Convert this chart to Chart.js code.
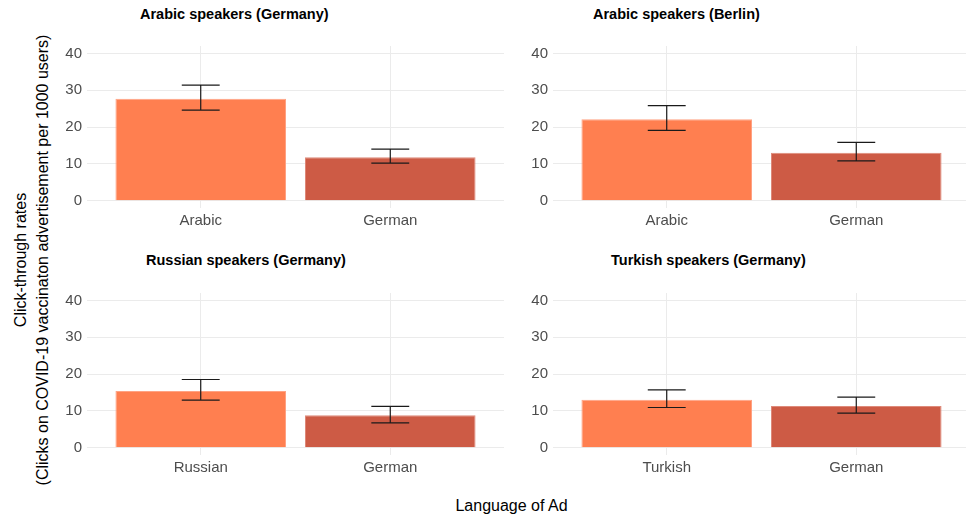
<!DOCTYPE html>
<html>
<head>
<meta charset="utf-8">
<script src="https://cdn.jsdelivr.net/npm/chart.js@4.4.0/dist/chart.umd.min.js"></script>
<style>
    html, body { margin: 0; padding: 0; width: 966px; height: 517px; overflow: hidden; background: #fff; }
    body { position: relative; font-family: "Liberation Sans", Arial, sans-serif; }
    canvas { position: absolute; }
    .panel-title { position: absolute; font-weight: bold; font-size: 14.5px; line-height: 1; color: #000; white-space: nowrap; }
    #yTitle { position: absolute; left: -218px; top: 238px; width: 500px; height: 44px; font-size: 16px; line-height: 22px;
              text-align: center; color: #000; transform: rotate(-90deg); transform-origin: 50% 50%; white-space: nowrap; }
    #xTitle { position: absolute; left: 0; width: 1023px; top: 498px; font-size: 16px; line-height: 1; text-align: center; color: #000; }
</style>
</head>
<body>
<div id="yTitle">Click-through rates<br>(Clicks on COVID-19 vaccinaton advertisement per 1000 users)</div>
<div id="xTitle">Language of Ad</div>
<script>
const panelTitles = ['Arabic speakers (Germany)', 'Arabic speakers (Berlin)', 'Russian speakers (Germany)', 'Turkish speakers (Germany)'];
const adLanguages = [['Arabic', 'German'], ['Arabic', 'German'], ['Russian', 'German'], ['Turkish', 'German']];
const ctrValues = [[27.7, 11.8], [22.1, 13.0], [15.4, 8.8], [13.0, 11.3]];
const ciLower = [[24.6, 10.2], [19.1, 10.8], [12.9, 6.7], [10.9, 9.4]];
const ciUpper = [[31.4, 14.0], [25.8, 15.8], [18.5, 11.2], [15.7, 13.7]];
const yTicks = [0, 10, 20, 30, 40];
const yMinorTicks = [5, 15, 25, 35];

// where each panel's plot area sits on the page
const panelBoxes = [
    { left: 87, right: 504, top: 44, bottom: 208, titleX: 140, titleY: 7 },
    { left: 553, right: 970, top: 44, bottom: 208, titleX: 593, titleY: 7 },
    { left: 87, right: 504, top: 291, bottom: 455, titleX: 146, titleY: 253 },
    { left: 553, right: 970, top: 291, bottom: 455, titleX: 611, titleY: 253 }
];

const barColors = ['#FF7F50', '#CD5B45'];
const barEdges = ['#FFA384', '#DE8A7A'];
const tickFont = { family: '"Liberation Sans", Arial, sans-serif', size: 15 };

Chart.defaults.font.family = '"Liberation Sans", Arial, sans-serif';

const errorBars = {
    id: 'errorBars',
    afterDatasetsDraw(chart, args, opts) {
        const i = opts.panel;
        const xs = chart.scales.x;
        const ys = chart.scales.y;
        const ctx = chart.ctx;
        ctx.save();
        ctx.strokeStyle = '#1a1a1a';
        ctx.lineWidth = 1.2;
        ciLower[i].forEach((lo, j) => {
            const x = xs.getPixelForValue(j + 1);
            const half = xs.getPixelForValue(j + 1.1) - x;
            const yLo = ys.getPixelForValue(lo);
            const yHi = ys.getPixelForValue(ciUpper[i][j]);
            ctx.beginPath();
            ctx.moveTo(x - half, yHi); ctx.lineTo(x + half, yHi);
            ctx.moveTo(x, yHi); ctx.lineTo(x, yLo);
            ctx.moveTo(x - half, yLo); ctx.lineTo(x + half, yLo);
            ctx.stroke();
        });
        ctx.restore();
    }
};

function buildPanel(i) {
    const box = panelBoxes[i];
    const cLeft = box.left - 45;
    const cTop = box.top - 12;

    const title = document.createElement('div');
    title.className = 'panel-title';
    title.style.left = box.titleX + 'px';
    title.style.top = box.titleY + 'px';
    title.textContent = panelTitles[i];
    document.body.appendChild(title);

    const canvas = document.createElement('canvas');
    canvas.width = box.right - cLeft;
    canvas.height = box.bottom + 32 - cTop;
    canvas.style.left = cLeft + 'px';
    canvas.style.top = cTop + 'px';
    document.body.appendChild(canvas);

    new Chart(canvas, {
        type: 'bar',
        data: {
            datasets: [{
                data: ctrValues[i].map((v, j) => ({ x: j + 1, y: v })),
                backgroundColor: barColors,
                borderColor: barEdges,
                borderWidth: 1,
                barPercentage: 0.9,
                categoryPercentage: 1
            }]
        },
        options: {
            responsive: false,
            animation: false,
            layout: { padding: { top: 12, left: 0, right: 0, bottom: 0 } },
            plugins: {
                legend: { display: false },
                tooltip: { enabled: false },
                errorBars: { panel: i }
            },
            scales: {
                x: {
                    type: 'linear',
                    min: 0.4,
                    max: 2.6,
                    offset: false,
                    afterBuildTicks: s => { s.ticks = [{ value: 1 }, { value: 2 }]; },
                    afterFit: s => { s.height = 32; },
                    border: { display: false },
                    grid: { color: '#EBEBEB', drawTicks: false, offset: false },
                    ticks: {
                        callback: v => adLanguages[i][v - 1],
                        padding: 4,
                        color: '#4D4D4D',
                        font: tickFont,
                        maxRotation: 0
                    }
                },
                y: {
                    min: -2,
                    max: 42,
                    afterBuildTicks: s => {
                        s.ticks = yTicks.concat(yMinorTicks).sort((a, b) => a - b).map(v => ({ value: v }));
                    },
                    afterFit: s => { s.width = 45; },
                    border: { display: false },
                    grid: {
                        color: c => yTicks.includes(c.tick.value) ? '#EBEBEB' : '#F4F4F4',
                        drawTicks: false
                    },
                    ticks: {
                        callback: v => yTicks.includes(v) ? String(v) : '',
                        padding: 5,
                        color: '#4D4D4D',
                        font: tickFont
                    }
                }
            }
        },
        plugins: [errorBars]
    });
}

panelTitles.forEach((t, i) => buildPanel(i));
</script>
</body>
</html>
